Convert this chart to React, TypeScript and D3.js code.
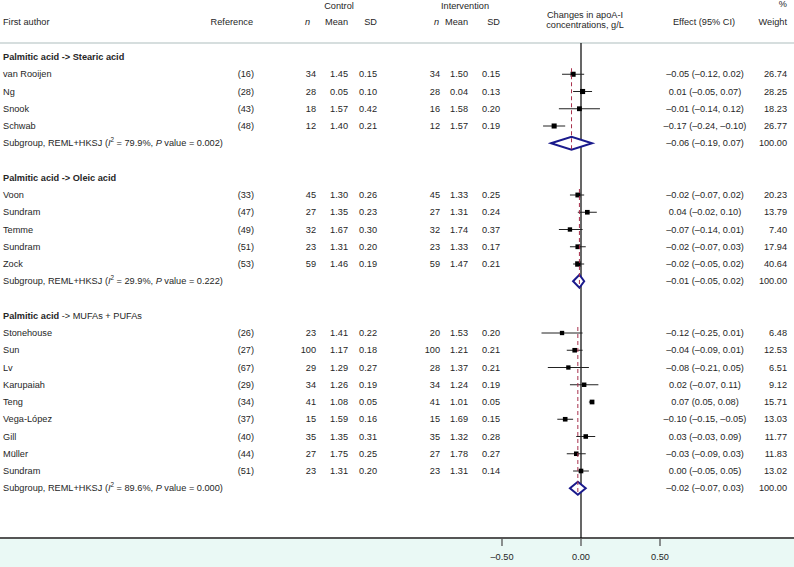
import React from "react";
import * as d3 from "d3";

const groupTitlesBold = ["Palmitic acid -> Stearic acid", "Palmitic acid -> Oleic acid", "Palmitic acid"];
const groupTitlesRest = ["", "", " -> MUFAs + PUFAs"];
const groupI2 = ["79.9%", "29.9%", "89.6%"];
const groupP = ["0.002", "0.222", "0.000"];
const groupEffect = [-0.06, -0.01, -0.02];
const groupLower = [-0.19, -0.05, -0.07];
const groupUpper = [0.07, 0.02, 0.03];

const studyGroup = [0, 0, 0, 0, 1, 1, 1, 1, 1, 2, 2, 2, 2, 2, 2, 2, 2, 2];
const authors = ["van Rooijen", "Ng", "Snook", "Schwab", "Voon", "Sundram", "Temme", "Sundram", "Zock", "Stonehouse", "Sun", "Lv", "Karupaiah", "Teng", "Vega-López", "Gill", "Müller", "Sundram"];
const refs = ["(16)", "(28)", "(43)", "(48)", "(33)", "(47)", "(49)", "(51)", "(53)", "(26)", "(27)", "(67)", "(29)", "(34)", "(37)", "(40)", "(44)", "(51)"];
const ctrlN = [34, 28, 18, 12, 45, 27, 32, 23, 59, 23, 100, 29, 34, 41, 15, 35, 27, 23];
const ctrlMean = ["1.45", "0.05", "1.57", "1.40", "1.30", "1.35", "1.67", "1.31", "1.46", "1.41", "1.17", "1.29", "1.26", "1.08", "1.59", "1.35", "1.75", "1.31"];
const ctrlSD = ["0.15", "0.10", "0.42", "0.21", "0.26", "0.23", "0.30", "0.20", "0.19", "0.22", "0.18", "0.27", "0.19", "0.05", "0.16", "0.31", "0.25", "0.20"];
const intN = [34, 28, 16, 12, 45, 27, 32, 23, 59, 20, 100, 28, 34, 41, 15, 35, 27, 23];
const intMean = ["1.50", "0.04", "1.58", "1.57", "1.33", "1.31", "1.74", "1.33", "1.47", "1.53", "1.21", "1.37", "1.24", "1.01", "1.69", "1.32", "1.78", "1.31"];
const intSD = ["0.15", "0.13", "0.20", "0.19", "0.25", "0.24", "0.37", "0.17", "0.21", "0.20", "0.21", "0.21", "0.19", "0.05", "0.15", "0.28", "0.27", "0.14"];
const effect = [-0.05, 0.01, -0.01, -0.17, -0.02, 0.04, -0.07, -0.02, -0.02, -0.12, -0.04, -0.08, 0.02, 0.07, -0.10, 0.03, -0.03, 0.00];
const lower = [-0.12, -0.05, -0.14, -0.24, -0.07, -0.02, -0.14, -0.07, -0.05, -0.25, -0.09, -0.21, -0.07, 0.05, -0.15, -0.03, -0.09, -0.05];
const upper = [0.02, 0.07, 0.12, -0.10, 0.02, 0.10, 0.01, 0.03, 0.02, 0.01, 0.01, 0.05, 0.11, 0.08, -0.05, 0.09, 0.03, 0.05];
const weight = ["26.74", "28.25", "18.23", "26.77", "20.23", "13.79", "7.40", "17.94", "40.64", "6.48", "12.53", "6.51", "9.12", "15.71", "13.03", "11.77", "11.83", "13.02"];
const axisTicks = [-0.5, 0, 0.5];

const W = 794;
const H = 567;
const FONT = "'Liberation Sans', Arial, sans-serif";
const FS = 9.2;
const TXT = "#262626";

const fmt = (v: number) => {
  const s = Math.abs(v).toFixed(2);
  return v < 0 ? "\u2013" + s : s;
};
const ciText = (e: number, l: number, u: number) => `${fmt(e)} (${fmt(l)}, ${fmt(u)})`;

export default function App() {
  const x = d3.scaleLinear().domain([-0.5, 0.5]).range([502, 660]);
  const rowY = d3.scaleLinear().domain([0, 1]).range([57, 57 + 17.25]);
  const headerLineY = 43;
  const axisY = 538;

  type Row = { kind: string; idx: number };
  const rows: Row[] = [];
  groupTitlesBold.forEach((_, g) => {
    rows.push({ kind: "title", idx: g });
    studyGroup.forEach((sg, i) => {
      if (sg === g) rows.push({ kind: "study", idx: i });
    });
    rows.push({ kind: "sub", idx: g });
    rows.push({ kind: "blank", idx: g });
  });

  const els: React.ReactNode[] = [];
  const groupFirst: number[] = [];
  const groupSub: number[] = [];
  rows.forEach((r, ri) => {
    const y = rowY(ri);
    if (r.kind === "title") {
      els.push(
        <text key={"t" + ri} x={3} y={y} dominantBaseline="central" fontWeight="bold" fill={TXT}>
          {groupTitlesBold[r.idx]}
          <tspan fontWeight="normal">{groupTitlesRest[r.idx]}</tspan>
        </text>
      );
    } else if (r.kind === "study") {
      const i = r.idx;
      const g = studyGroup[i];
      if (groupFirst[g] === undefined) groupFirst[g] = y;
      const side = 3.6 + Math.sqrt(parseFloat(weight[i])) * 0.28;
      els.push(
        <g key={"s" + ri}>
          <text x={3} y={y} dominantBaseline="central">{authors[i]}</text>
          <text x={254} y={y} dominantBaseline="central" textAnchor="end">{refs[i]}</text>
          <text x={316} y={y} dominantBaseline="central" textAnchor="end">{ctrlN[i]}</text>
          <text x={348} y={y} dominantBaseline="central" textAnchor="end">{ctrlMean[i]}</text>
          <text x={377} y={y} dominantBaseline="central" textAnchor="end">{ctrlSD[i]}</text>
          <text x={440} y={y} dominantBaseline="central" textAnchor="end">{intN[i]}</text>
          <text x={468} y={y} dominantBaseline="central" textAnchor="end">{intMean[i]}</text>
          <text x={500} y={y} dominantBaseline="central" textAnchor="end">{intSD[i]}</text>
          <text x={705} y={y} dominantBaseline="central" textAnchor="middle">{ciText(effect[i], lower[i], upper[i])}</text>
          <text x={787} y={y} dominantBaseline="central" textAnchor="end">{weight[i]}</text>
          <line x1={x(lower[i])} x2={x(upper[i])} y1={y} y2={y} stroke="#222" strokeWidth={1} />
          <rect x={x(effect[i]) - side / 2} y={y - side / 2} width={side} height={side} fill="#000" />
        </g>
      );
    } else if (r.kind === "sub") {
      const g = r.idx;
      groupSub[g] = y;
      els.push(
        <g key={"g" + ri}>
          <text x={3} y={y} dominantBaseline="central">
            Subgroup, REML+HKSJ (<tspan fontStyle="italic">I</tspan>
            <tspan dy={-4} fontSize={6.3}>2</tspan>
            <tspan dy={4}>{" = " + groupI2[g] + ", "}</tspan>
            <tspan fontStyle="italic">P</tspan>
            {" value = " + groupP[g] + ")"}
          </text>
          <text x={705} y={y} dominantBaseline="central" textAnchor="middle">{ciText(groupEffect[g], groupLower[g], groupUpper[g])}</text>
          <text x={787} y={y} dominantBaseline="central" textAnchor="end">100.00</text>
        </g>
      );
    }
  });

  const diamonds = groupEffect.map((e, g) => {
    const y = groupSub[g];
    const pts = [
      [x(groupLower[g]), y],
      [x(e), y - 6.5],
      [x(groupUpper[g]), y],
      [x(e), y + 6.5],
    ];
    return (
      <g key={"d" + g}>
        <polygon points={pts.map((p) => p.join(",")).join(" ")} fill="#fff" stroke="#1a1a8c" strokeWidth={2} />
        <line x1={x(e)} x2={x(e)} y1={groupFirst[g] - 6} y2={y + 6} stroke="#a8304c" strokeWidth={1} strokeDasharray="4,3" />
      </g>
    );
  });

  return (
    <div style={{ position: "absolute", left: 0, top: 0 }}>
      <svg width={W} height={H} fontFamily={FONT} fontSize={FS} fill={TXT} style={{ display: "block" }}>
        <rect x={0} y={0} width={W} height={H} fill="#fff" />
        <text x={3} y={22} dominantBaseline="central">First author</text>
        <text x={253} y={22} dominantBaseline="central" textAnchor="end">Reference</text>
        <text x={339} y={6} dominantBaseline="central" textAnchor="middle">Control</text>
        <text x={310} y={22} dominantBaseline="central" textAnchor="end" fontStyle="italic">n</text>
        <text x={348} y={22} dominantBaseline="central" textAnchor="end">Mean</text>
        <text x={377} y={22} dominantBaseline="central" textAnchor="end">SD</text>
        <text x={465} y={6} dominantBaseline="central" textAnchor="middle">Intervention</text>
        <text x={439} y={22} dominantBaseline="central" textAnchor="end" fontStyle="italic">n</text>
        <text x={468} y={22} dominantBaseline="central" textAnchor="end">Mean</text>
        <text x={500} y={22} dominantBaseline="central" textAnchor="end">SD</text>
        <text x={585} y={15} dominantBaseline="central" textAnchor="middle">Changes in apoA-I</text>
        <text x={585} y={25} dominantBaseline="central" textAnchor="middle">concentrations, g/L</text>
        <text x={704} y={22} dominantBaseline="central" textAnchor="middle">Effect (95% CI)</text>
        <text x={787} y={4} dominantBaseline="central" textAnchor="end">%</text>
        <text x={787} y={22} dominantBaseline="central" textAnchor="end">Weight</text>
        <line x1={0} x2={W} y1={headerLineY} y2={headerLineY} stroke="#c9d3d3" strokeWidth={1.5} />

        <rect x={0} y={axisY} width={W} height={H - axisY} fill="#eaf9f5" />
        <line x1={0} x2={W} y1={axisY} y2={axisY} stroke="#555" strokeWidth={2} />
        {axisTicks.map((t) => (
          <g key={"tk" + t}>
            <line x1={x(t)} x2={x(t)} y1={axisY} y2={axisY + 8} stroke="#555" strokeWidth={1.3} />
            <text x={x(t)} y={557} dominantBaseline="central" textAnchor="middle">{fmt(t)}</text>
          </g>
        ))}

        <line x1={x(0)} x2={x(0)} y1={headerLineY} y2={axisY} stroke="#000" strokeWidth={1.2} />

        {els}
        {diamonds}
      </svg>
    </div>
  );
}
